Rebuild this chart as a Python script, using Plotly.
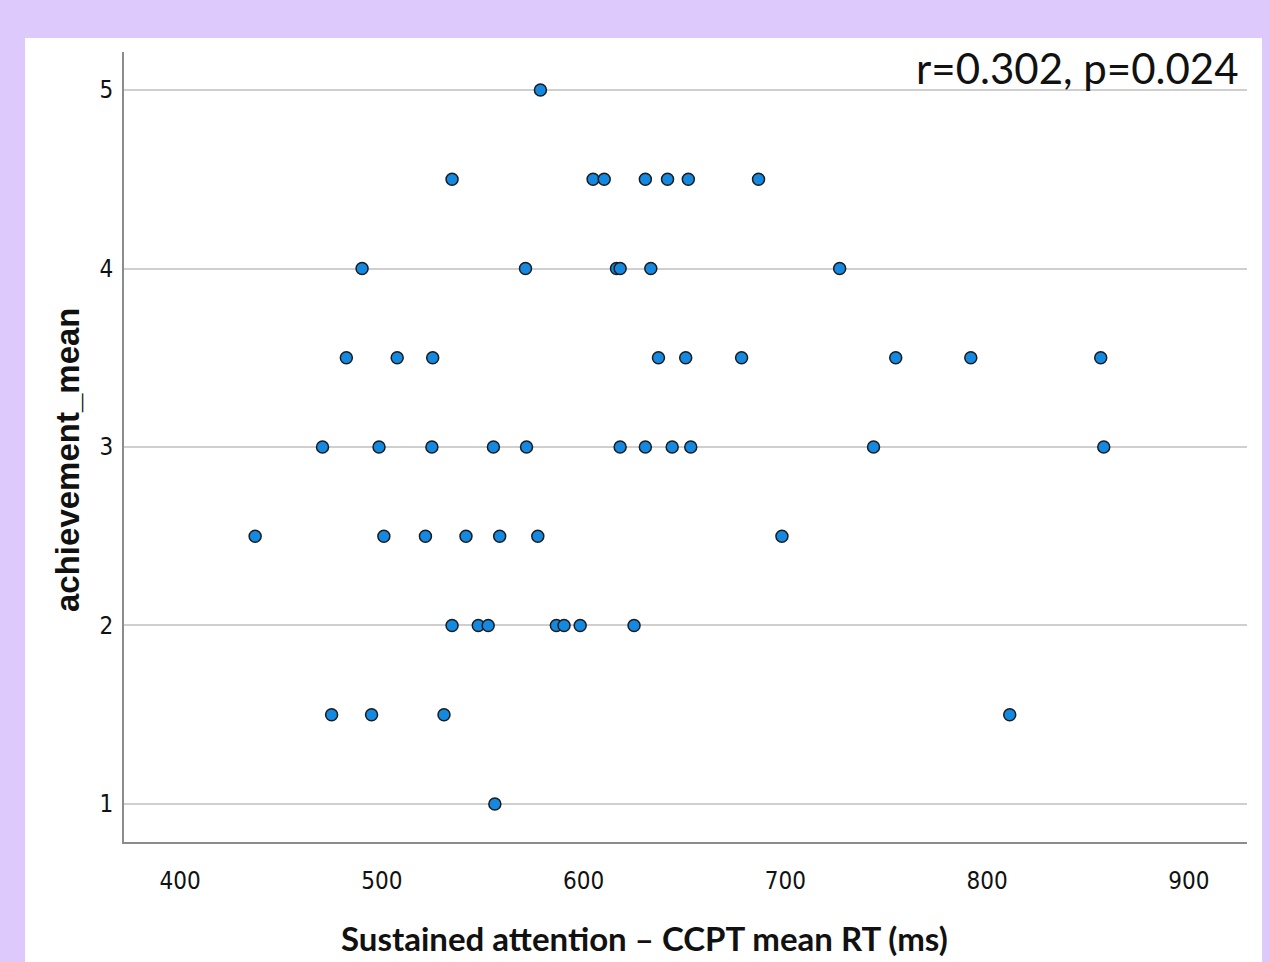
import plotly.graph_objects as go

# Data (x = CCPT mean RT in ms, y = achievement_mean)
rt_ms = [
    578.6,
    534.8, 604.7, 610.2, 630.6, 641.6, 651.9, 686.7,
    490.2, 571.2, 616.3, 618.1, 633.3, 726.9,
    482.4, 507.6, 525.2, 637.1, 650.6, 678.3, 754.7, 791.9, 856.3,
    470.6, 498.6, 524.8, 555.3, 571.7, 618.1, 630.6, 643.9, 653.1, 743.7, 857.8,
    437.2, 501.0, 521.6, 541.7, 558.4, 577.3, 698.3,
    534.8, 547.8, 552.7, 586.5, 590.3, 598.3, 625.0,
    475.1, 494.9, 530.8, 811.2,
    556.0,
]
achievement = (
    [5.0]
    + [4.5] * 7
    + [4.0] * 6
    + [3.5] * 9
    + [3.0] * 11
    + [2.5] * 7
    + [2.0] * 7
    + [1.5] * 4
    + [1.0]
)

x_ticks = [400, 500, 600, 700, 800, 900]
y_ticks = [1, 2, 3, 4, 5]
x_title = "Sustained attention \u2013 CCPT mean RT (ms)"
y_title = "achievement_mean"
stat_text = "r=0.302, p=0.024"

W, H = 1269, 962
L, R, T, B = 124, 22, 52, 120
pw, ph = W - L - R, H - T - B

def px2paper_x(px):
    return (px - L) / pw

def px2paper_y(py):
    return (H - B - py) / ph

tick_font = dict(family="DejaVu Sans Condensed, Liberation Sans Narrow, sans-serif",
                 size=24, color="#111111")

fig = go.Figure()
fig.add_trace(go.Scatter(
    x=rt_ms, y=achievement, mode="markers",
    marker=dict(size=12, color="#1489E2", line=dict(color="#1c1c1c", width=1.5)),
    showlegend=False, hoverinfo="x+y",
))

fig.update_layout(
    width=W, height=H,
    margin=dict(l=L, r=R, t=T, b=B, pad=0),
    paper_bgcolor="#DDC9FB",
    plot_bgcolor="rgba(0,0,0,0)",
    showlegend=False,
    shapes=[dict(
        type="rect", xref="paper", yref="paper", layer="below",
        x0=px2paper_x(25), x1=px2paper_x(1262),
        y0=px2paper_y(970), y1=px2paper_y(38),
        fillcolor="white", line=dict(width=0),
    )],
    xaxis=dict(
        range=[372.2, 928.8], tickvals=x_ticks,
        showgrid=False, zeroline=False,
        showline=True, linecolor="#8c8c8c", linewidth=2,
        ticks="outside", ticklen=16, tickcolor="rgba(0,0,0,0)",
        tickfont=tick_font,
        automargin=False,
    ),
    yaxis=dict(
        range=[0.787, 5.213], tickvals=y_ticks,
        showgrid=True, gridcolor="#cfcfcf", gridwidth=2,
        zeroline=False,
        showline=True, linecolor="#8c8c8c", linewidth=2,
        ticks="outside", ticklen=4, tickcolor="rgba(0,0,0,0)",
        tickfont=tick_font,
        automargin=False,
    ),
    annotations=[
        dict(
            text=stat_text, xref="paper", yref="paper",
            x=px2paper_x(1241), y=px2paper_y(68),
            xanchor="right", yanchor="middle", showarrow=False,
            font=dict(family="Lato, Open Sans, sans-serif", size=42, color="#111111"),
        ),
        dict(
            text=x_title, xref="paper", yref="paper",
            x=px2paper_x(644), y=px2paper_y(938),
            xanchor="center", yanchor="middle", showarrow=False,
            font=dict(family="Lato, Open Sans, sans-serif", size=33, color="#111111", weight="bold"),
        ),
        dict(
            text=y_title, xref="paper", yref="paper",
            x=px2paper_x(67), y=px2paper_y(460), textangle=-90,
            xanchor="center", yanchor="middle", showarrow=False,
            font=dict(family="Arial, Liberation Sans, sans-serif", size=33, color="#111111", weight="bold"),
        ),
    ],
)

fig.write_html("out.html", config={"displayModeBar": False},
               post_script="document.body.style.margin='0';document.body.style.overflow='hidden';")
